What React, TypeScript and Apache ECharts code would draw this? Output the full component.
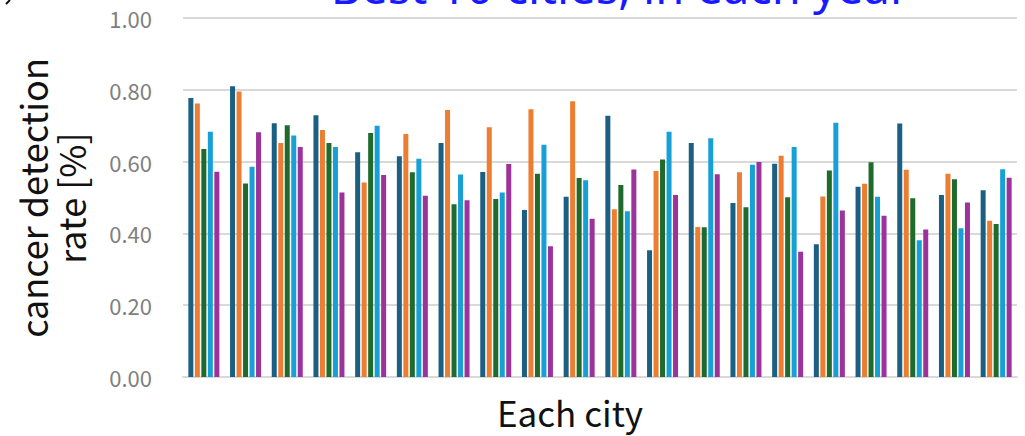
import React, { useEffect, useRef } from "react";
import * as echarts from "echarts";

const cities = Array.from({ length: 20 }, (_, i) => `City ${i + 1}`);
const seriesNames = ["Year 1", "Year 2", "Year 3", "Year 4", "Year 5"];
const year1 = [0.777, 0.81, 0.707, 0.729, 0.626, 0.615, 0.652, 0.571, 0.465, 0.502, 0.728, 0.353, 0.652, 0.485, 0.594, 0.37, 0.53, 0.706, 0.507, 0.52];
const year2 = [0.762, 0.795, 0.652, 0.688, 0.542, 0.677, 0.744, 0.696, 0.746, 0.768, 0.467, 0.574, 0.418, 0.57, 0.616, 0.503, 0.538, 0.577, 0.566, 0.435];
const year3 = [0.635, 0.539, 0.701, 0.652, 0.68, 0.57, 0.481, 0.496, 0.566, 0.554, 0.535, 0.606, 0.417, 0.473, 0.501, 0.575, 0.598, 0.498, 0.551, 0.426];
const year4 = [0.683, 0.586, 0.673, 0.641, 0.7, 0.608, 0.564, 0.514, 0.647, 0.548, 0.462, 0.683, 0.665, 0.591, 0.641, 0.708, 0.502, 0.381, 0.414, 0.579];
const year5 = [0.572, 0.682, 0.641, 0.514, 0.563, 0.505, 0.492, 0.593, 0.364, 0.441, 0.578, 0.507, 0.565, 0.599, 0.349, 0.464, 0.449, 0.411, 0.486, 0.555];
const seriesValues = [year1, year2, year3, year4, year5];
const colors = ["#1b6082", "#ed7d31", "#1f6b2c", "#17a0d8", "#9c329b"];
const yTicks = [0, 0.2, 0.4, 0.6, 0.8, 1.0];

export default function App() {
  const ref = useRef<HTMLDivElement>(null);
  useEffect(() => {
    if (!ref.current) return;
    const chart = echarts.init(ref.current, undefined, { renderer: "svg" });
    const font = "'Noto Sans CJK JP', 'Noto Sans', sans-serif";
    chart.setOption({
      animation: false,
      grid: { left: 183, right: 8, top: 18, bottom: 59, containLabel: false },
      xAxis: {
        type: "category",
        data: cities,
        axisLine: { show: true, lineStyle: { color: "#d9d9d9", width: 2 } },
        axisTick: { show: false },
        axisLabel: { show: false },
      },
      yAxis: {
        type: "value",
        min: yTicks[0],
        max: yTicks[yTicks.length - 1],
        interval: 0.2,
        axisLine: { show: false },
        axisTick: { show: false },
        axisLabel: {
          formatter: (v: number) => v.toFixed(2),
          color: "#7f7f7f",
          fontSize: 22,
          fontFamily: font,
          margin: 31,
        },
        splitLine: { lineStyle: { color: "#d9d9d9", width: 2 } },
      },
      series: seriesValues.map((vals, i) => ({
        name: seriesNames[i],
        type: "bar",
        data: vals,
        barWidth: 5,
        barGap: "30%",
        itemStyle: { color: colors[i] },
      })),
      graphic: [
        {
          type: "text",
          x: 620,
          y: 9,
          style: {
            text: "Best 10 cities, in each year",
            fill: "#1a1aff",
            fontSize: 47,
            fontFamily: "'Noto Sans', sans-serif",
            textAlign: "center",
            textVerticalAlign: "bottom",
          },
        },
        {
          type: "text",
          x: 51,
          y: 198,
          rotation: Math.PI / 2,
          style: {
            text: "cancer detection\nrate [%]",
            fill: "#111",
            fontSize: 36,
            lineHeight: 38,
            fontFamily: font,
            textAlign: "center",
            textVerticalAlign: "middle",
          },
        },
        {
          type: "text",
          x: 570,
          y: 411,
          style: {
            text: "Each city",
            fill: "#111",
            fontSize: 35,
            fontFamily: font,
            textAlign: "center",
            textVerticalAlign: "middle",
          },
        },
        {
          type: "line",
          shape: { x1: 10, y1: 0, x2: 6, y2: 4 },
          style: { stroke: "#111", lineWidth: 2 },
        },
      ],
    });
    return () => chart.dispose();
  }, []);
  return (
    <div
      ref={ref}
      style={{ position: "fixed", left: 0, top: 0, width: 1025, height: 436, background: "#fff" }}
    />
  );
}
